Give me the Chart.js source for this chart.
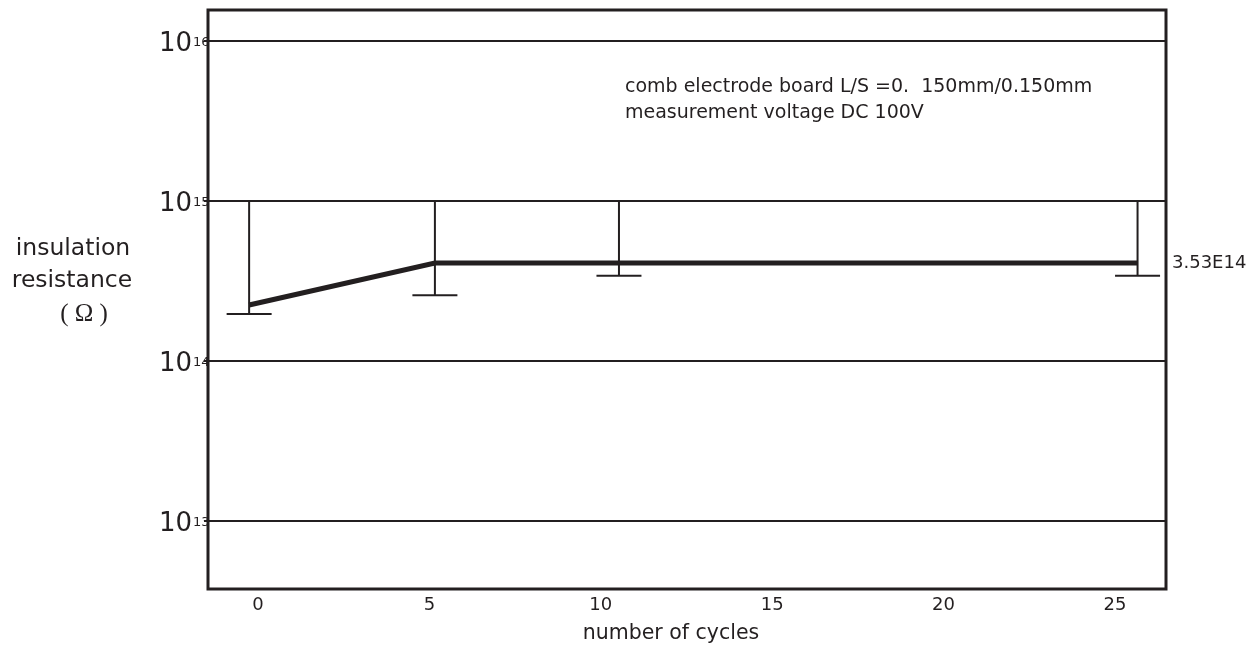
<!DOCTYPE html>
<html>
<head>
<meta charset="utf-8">
<script src="https://cdn.jsdelivr.net/npm/chart.js@4.4.1/dist/chart.umd.min.js"></script>
<style>
  html, body { margin: 0; padding: 0; background: #fff; }
  #wrap { width: 1256px; height: 645px; }
</style>
</head>
<body>
<div id="wrap"><canvas id="irChart" width="1256" height="645"></canvas></div>
<script>
// ---- data ----
// x position (number of cycles) of each measurement
const cycles = [-0.26, 5.16, 10.53, 25.66];
// insulation resistance (ohm): plotted line, lower end of range, upper end of range
const resistance = [2.24e14, 4.1e14, 4.1e14, 4.1e14];
const rangeLow   = [1.97e14, 2.58e14, 3.41e14, 3.41e14];
const rangeHigh  = [1e15, 1e15, 1e15, 1e15];
// axis ticks
const xTicks = [0, 5, 10, 15, 20, 25];
const yTickExponents = [13, 14, 15, 16];
// texts
const xTitle = 'number of cycles';
const yTitle = ['insulation', 'resistance'];
const yUnit = '( \u03A9 )';
const noteLines = ['comb electrode board L/S =0.  150mm/0.150mm', 'measurement voltage DC 100V'];
const endLabel = '3.53E14';

const INK = '#231f20';
const SANS = '"DejaVu Sans", sans-serif';

(function(){
  const el = document.getElementById('irChart');
  if (!el || typeof Chart === 'undefined') return;

  // stems of the ranges: pairs of points split by a gap
  const stems = [];
  cycles.forEach((x, i) => {
    stems.push({ x, y: rangeHigh[i] }, { x, y: rangeLow[i] }, { x, y: null });
  });

  // frame, tick labels and texts drawn on top of the chart
  const decor = {
    id: 'decor',
    afterDraw(chart){
      const { ctx, chartArea: a, scales } = chart;
      ctx.save();
      ctx.strokeStyle = INK;
      ctx.lineWidth = 3;
      ctx.strokeRect(a.left, a.top, a.right - a.left, a.bottom - a.top);

      ctx.fillStyle = INK;
      // y tick labels: 10 with exponent
      scales.y.ticks.forEach(t => {
        const py = scales.y.getPixelForValue(t.value);
        const exp = Math.round(Math.log10(t.value));
        ctx.font = '26px ' + SANS;
        ctx.textAlign = 'right';
        ctx.textBaseline = 'alphabetic';
        ctx.fillText('10', 192, py + 10);
        ctx.font = '13px ' + SANS;
        ctx.textAlign = 'left';
        ctx.fillText(String(exp), 193, py + 5);
      });

      // x tick labels
      ctx.font = '18px ' + SANS;
      ctx.textAlign = 'center';
      ctx.textBaseline = 'middle';
      scales.x.ticks.forEach(t => {
        ctx.fillText(String(t.value), scales.x.getPixelForValue(t.value), 605);
      });

      // axis titles
      ctx.font = '20.5px ' + SANS;
      ctx.fillText(xTitle, 671, 634);
      ctx.font = '23.5px ' + SANS;
      ctx.textBaseline = 'alphabetic';
      ctx.fillText(yTitle[0], 73, 255);
      ctx.fillText(yTitle[1], 72, 287);
      ctx.font = '25px "Liberation Serif", serif';
      ctx.fillText(yUnit, 84, 321);

      // notes
      ctx.font = '19px ' + SANS;
      ctx.textAlign = 'left';
      ctx.fillText(noteLines[0], 625, 92);
      ctx.fillText(noteLines[1], 625, 118);

      ctx.font = '18px ' + SANS;
      ctx.textBaseline = 'middle';
      ctx.fillText(endLabel, 1172, 263);
      ctx.restore();
    }
  };

  new Chart(el, {
    type: 'scatter',
    data: {
      datasets: [
        {
          type: 'line',
          data: cycles.map((x, i) => ({ x, y: resistance[i] })),
          borderColor: INK,
          borderWidth: 5,
          borderCapStyle: 'butt',
          pointRadius: 0,
          tension: 0
        },
        {
          type: 'line',
          data: stems,
          borderColor: INK,
          borderWidth: 2,
          pointRadius: 0,
          spanGaps: false
        },
        {
          data: cycles.map((x, i) => ({ x, y: rangeLow[i] })),
          pointStyle: 'line',
          radius: 22.5,
          hoverRadius: 22.5,
          borderWidth: 2,
          borderColor: INK,
          backgroundColor: INK
        }
      ]
    },
    options: {
      responsive: false,
      animation: false,
      events: [],
      layout: { autoPadding: false, padding: { left: 208, top: 10, right: 90, bottom: 56 } },
      plugins: { legend: { display: false }, tooltip: { enabled: false } },
      scales: {
        x: {
          type: 'linear',
          min: -1.46,
          max: 26.49,
          afterBuildTicks: s => { s.ticks = xTicks.map(v => ({ value: v })); },
          afterFit: s => { s.height = 0; },
          grid: { display: false },
          border: { display: false },
          ticks: { display: false }
        },
        y: {
          type: 'logarithmic',
          min: Math.pow(10, 12.575),
          max: Math.pow(10, 16.19375),
          afterBuildTicks: s => { s.ticks = yTickExponents.map(e => ({ value: Math.pow(10, e) })); },
          afterFit: s => { s.width = 0; },
          grid: { color: INK, lineWidth: 2, drawTicks: true, tickLength: 4 },
          border: { display: false },
          ticks: { display: false }
        }
      }
    },
    plugins: [decor]
  });
})();
</script>
</body>
</html>
